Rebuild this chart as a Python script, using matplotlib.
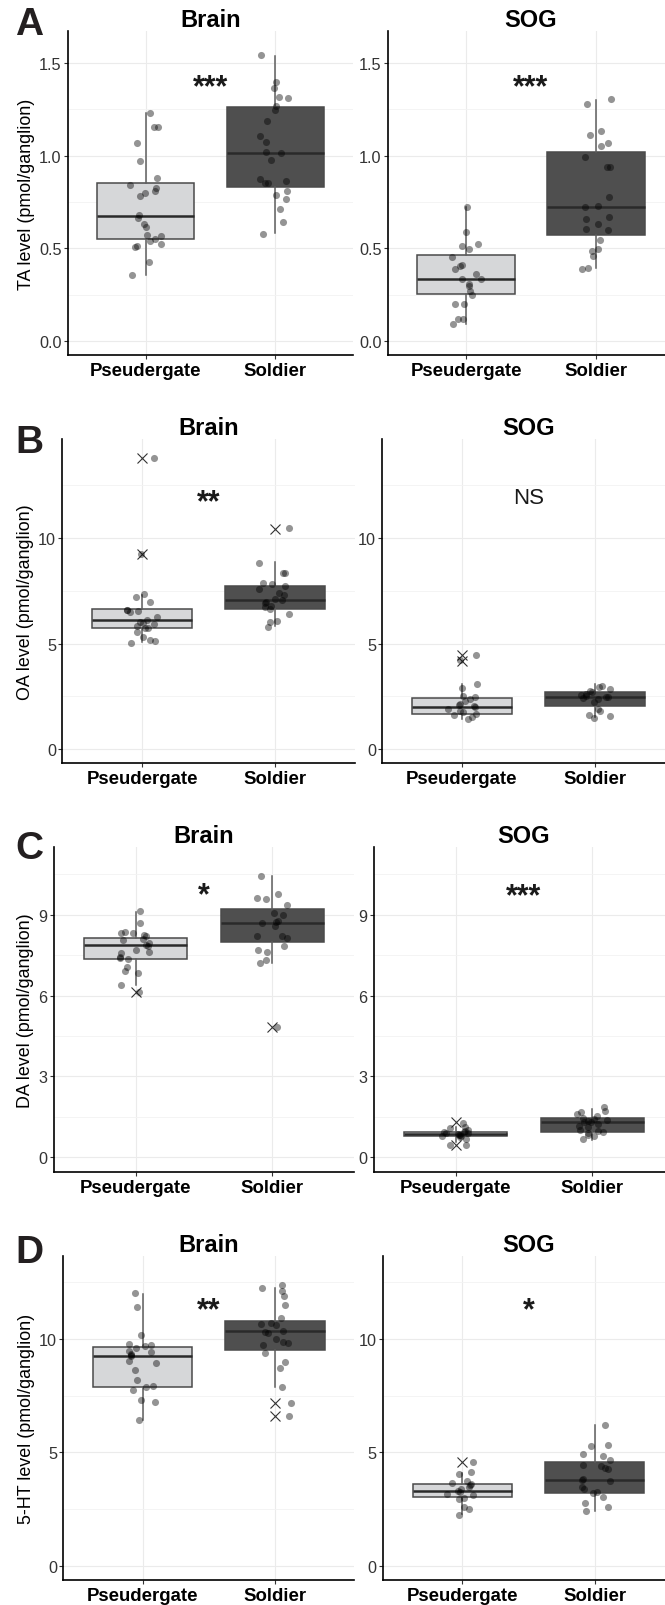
import matplotlib.pyplot as plt
import numpy as np

plt.rcParams['font.family'] = ['Liberation Sans', 'DejaVu Sans']

groups = ['Pseudergate', 'Soldier']
tissues = ['Brain', 'SOG']
letters = ['A', 'B', 'C', 'D']
ylabels = ['TA level (pmol/ganglion)', 'OA level (pmol/ganglion)',
           'DA level (pmol/ganglion)', '5-HT level (pmol/ganglion)']

# --- valeurs individuelles ---
ta_brain_pse = [1.23, 1.157, 1.157, 1.067, 0.971, 0.877, 0.841, 0.823, 0.807, 0.798, 0.784, 0.679,
                0.665, 0.634, 0.613, 0.571, 0.568, 0.55, 0.542, 0.526, 0.514, 0.506, 0.427, 0.357]
ta_brain_sol = [1.541, 1.396, 1.366, 1.312, 1.315, 1.27, 1.249, 1.189, 1.104, 1.072, 1.014, 1.022,
                0.977, 0.874, 0.865, 0.85, 0.85, 0.811, 0.787, 0.766, 0.715, 0.643, 0.58]
ta_sog_pse = [0.723, 0.586, 0.526, 0.514, 0.499, 0.454, 0.411, 0.405, 0.391, 0.364, 0.337, 0.333,
              0.31, 0.297, 0.27, 0.249, 0.202, 0.198, 0.121, 0.117, 0.094]
ta_sog_sol = [1.306, 1.279, 1.135, 1.112, 1.068, 1.054, 0.991, 0.937, 0.937, 0.778, 0.73, 0.721,
              0.661, 0.67, 0.629, 0.604, 0.598, 0.544, 0.495, 0.483, 0.459, 0.396, 0.391]

oa_brain_pse = [13.79, 9.24, 7.35, 7.19, 6.95, 6.6, 6.56, 6.6, 6.51, 6.24, 6.13, 6.03, 5.96, 5.92,
                5.81, 5.72, 5.72, 5.53, 5.29, 5.18, 5.13, 5.01]
oa_brain_sol = [10.46, 8.8, 8.34, 8.33, 7.87, 7.82, 7.74, 7.58, 7.38, 7.3, 7.11, 7.08, 6.95, 6.92,
                6.76, 6.71, 6.64, 6.4, 6.05, 6.0, 5.8]
oa_sog_pse = [4.47, 4.23, 3.08, 2.88, 2.53, 2.45, 2.37, 2.29, 2.13, 2.05, 2.09, 1.97, 1.9, 1.82,
              1.74, 1.66, 1.61, 1.5, 1.42]
oa_sog_sol = [3.0, 2.95, 2.84, 2.76, 2.69, 2.61, 2.56, 2.53, 2.48, 2.45, 2.4, 2.37, 2.21, 1.9,
              1.82, 1.63, 1.55, 1.47]

da_brain_pse = [9.16, 8.7, 8.38, 8.33, 8.32, 8.26, 8.23, 8.11, 8.05, 7.95, 7.89, 7.86, 7.68, 7.64,
                7.59, 7.45, 7.4, 7.37, 7.06, 6.91, 6.85, 6.4, 6.13]
da_brain_sol = [10.46, 9.78, 9.62, 9.59, 9.35, 9.06, 8.98, 8.79, 8.73, 8.7, 8.6, 8.23, 8.2, 8.13,
                7.86, 7.7, 7.61, 7.33, 7.22, 4.83]
da_sog_pse = [1.14, 1.08, 1.03, 0.99, 0.95, 0.93, 0.9, 0.89, 0.87, 0.84, 0.83, 0.8, 0.78, 0.74,
              0.68, 0.47, 0.47, 1.28]
da_sog_sol = [1.86, 1.73, 1.67, 1.61, 1.52, 1.45, 1.42, 1.39, 1.36, 1.32, 1.3, 1.24, 1.18, 1.11,
              1.03, 0.99, 0.93, 0.89, 0.83, 0.78, 0.68]

ht_brain_pse = [12.02, 11.39, 10.16, 9.78, 9.72, 9.68, 9.6, 9.46, 9.43, 9.34, 9.31, 9.24, 9.02,
                8.94, 8.61, 8.21, 7.92, 7.89, 7.74, 7.33, 7.23, 6.41]
ht_brain_sol = [12.39, 12.27, 12.1, 11.88, 11.48, 10.92, 10.7, 10.66, 10.6, 10.34, 10.29, 10.26,
                10.0, 9.85, 9.82, 9.72, 9.38, 8.97, 8.7, 7.89, 7.18, 6.6]
ht_sog_pse = [4.57, 4.13, 4.06, 3.74, 3.67, 3.62, 3.55, 3.49, 3.4, 3.3, 3.26, 3.18, 3.12, 2.99,
              2.96, 2.61, 2.52, 2.23]
ht_sog_sol = [6.2, 5.31, 5.28, 4.91, 4.84, 4.66, 4.44, 4.4, 4.33, 4.25, 3.81, 3.77, 3.74, 3.45,
              3.4, 3.23, 3.2, 3.04, 2.76, 2.57, 2.42]

# --- boîtes : [moustache basse, Q1, médiane, Q3, moustache haute] ---
ta_brain_box = [[0.357, 0.55, 0.672, 0.85, 1.229], [0.582, 0.829, 1.013, 1.261, 1.537]]
ta_sog_box = [[0.09, 0.256, 0.333, 0.463, 0.723], [0.396, 0.571, 0.721, 1.022, 1.30]]
oa_brain_box = [[5.06, 5.72, 6.13, 6.635, 7.30], [5.81, 6.635, 7.06, 7.74, 8.85]]
oa_sog_box = [[1.42, 1.66, 1.97, 2.40, 3.08], [1.50, 2.05, 2.45, 2.69, 3.08]]
da_brain_box = [[6.38, 7.35, 7.90, 8.13, 9.10], [7.22, 7.98, 8.70, 9.22, 10.46]]
da_sog_box = [[0.56, 0.78, 0.867, 0.953, 1.11], [0.66, 0.93, 1.30, 1.46, 1.80]]
ht_brain_box = [[6.41, 7.89, 9.24, 9.63, 11.98], [7.89, 9.53, 10.34, 10.81, 12.27]]
ht_sog_box = [[2.27, 3.01, 3.30, 3.62, 4.11], [2.42, 3.20, 3.77, 4.56, 6.19]]

# valeurs aberrantes (croix)
ta_brain_out = [[], []]
ta_sog_out = [[], []]
oa_brain_out = [[13.79, 9.24], [10.43]]
oa_sog_out = [[4.47, 4.19], []]
da_brain_out = [[6.13], [4.83]]
da_sog_out = [[1.30, 0.46], []]
ht_brain_out = [[], [7.18, 6.60]]
ht_sog_out = [[4.57], []]

# significativité
sig_labels = [['***', '***'], ['**', 'NS'], ['*', '***'], ['**', '*']]
sig_y = [[1.42, 1.42], [12.16, 12.04], [10.06, 10.03], [11.66, 11.66]]

points = [[(ta_brain_pse, ta_brain_sol), (ta_sog_pse, ta_sog_sol)],
          [(oa_brain_pse, oa_brain_sol), (oa_sog_pse, oa_sog_sol)],
          [(da_brain_pse, da_brain_sol), (da_sog_pse, da_sog_sol)],
          [(ht_brain_pse, ht_brain_sol), (ht_sog_pse, ht_sog_sol)]]
boxes = [[ta_brain_box, ta_sog_box], [oa_brain_box, oa_sog_box],
         [da_brain_box, da_sog_box], [ht_brain_box, ht_sog_box]]
outliers = [[ta_brain_out, ta_sog_out], [oa_brain_out, oa_sog_out],
            [da_brain_out, da_sog_out], [ht_brain_out, ht_sog_out]]

yticks = [[0, 0.5, 1.0, 1.5], [0, 5, 10], [0, 3, 6, 9], [0, 5, 10]]
yticklabels = [['0.0', '0.5', '1.0', '1.5'], ['0', '5', '10'], ['0', '3', '6', '9'], ['0', '5', '10']]
yminor = [[0.25, 0.75, 1.25], [2.5, 7.5, 12.5], [1.5, 4.5, 7.5, 10.5], [2.5, 7.5, 12.5]]
ylims = [(-0.0756, 1.673), (-0.66, 14.69), (-0.546, 11.52), (-0.63, 13.66)]

# position des panneaux en pixels (gauche, droite) et (haut, bas)
W, H = 665, 1606
xpix = [[(68, 353), (388, 674)], [(62.2, 354.8), (382.2, 674.8)],
        [(53.7, 354.4), (373.7, 674.4)], [(63.3, 354.4), (382.9, 674)]]
ypix = [(32, 356), (440, 764), (848, 1173), (1257, 1581)]
letter_pos = [(15, 35), (15, 453), (15, 859), (15, 1263)]

fills = ['#d6d7d9', '#4f4f4f']

fig = plt.figure(figsize=(W / 100, H / 100), dpi=100)
rng = np.random.default_rng(7)

for r in range(4):
    top, bot = ypix[r]
    for c in range(2):
        x0, x1 = xpix[r][c]
        ax = fig.add_axes([x0 / W, 1 - bot / H, (x1 - x0) / W, (bot - top) / H])

        stats = []
        for g in range(2):
            lo, q1, med, q3, hi = boxes[r][c][g]
            stats.append({'whislo': lo, 'q1': q1, 'med': med, 'q3': q3,
                          'whishi': hi, 'fliers': outliers[r][c][g]})
        bp = ax.bxp(stats, positions=[1, 2], widths=0.75, patch_artist=True,
                    showcaps=False, showfliers=True,
                    boxprops=dict(edgecolor='#4a4a4a', linewidth=1.1),
                    whiskerprops=dict(color='#5e5e5e', linewidth=1.1),
                    medianprops=dict(color='#2a2a2a', linewidth=1.8),
                    flierprops=dict(marker='x', markersize=6.5, markeredgecolor='#333333',
                                    markeredgewidth=0.8, linestyle='none'),
                    zorder=2)
        for patch, col in zip(bp['boxes'], fills):
            patch.set_facecolor(col)

        for g in range(2):
            vals = points[r][c][g]
            xs = g + 1 + rng.uniform(-0.12, 0.12, len(vals))
            ax.scatter(xs, vals, s=26, color='black', alpha=0.42, linewidths=0, zorder=3)

        is_ns = sig_labels[r][c] == 'NS'
        ax.annotate(sig_labels[r][c], (1.5, sig_y[r][c]),
                    xytext=(0, -5.8 if is_ns else -12.5),
                    textcoords='offset points', ha='center', va='baseline',
                    fontsize=16 if is_ns else 22,
                    fontweight='normal' if is_ns else 'bold', color='#1a1a1a')

        ax.set_xlim(0.4, 2.6)
        ax.set_ylim(*ylims[r])
        ax.set_xticks([1, 2])
        ax.set_xticklabels(groups, fontsize=13.4, fontweight='bold', color='black')
        ax.set_yticks(yticks[r])
        ax.set_yticklabels(yticklabels[r], fontsize=11.7, color='#333333')
        ax.set_yticks(yminor[r], minor=True)
        ax.grid(True, which='major', color='#ebebeb', linewidth=0.8)
        ax.grid(True, which='minor', axis='y', color='#f3f3f3', linewidth=0.6)
        ax.set_axisbelow(True)
        ax.tick_params(axis='both', which='major', length=3, width=0.8, color='#333333', pad=1.5)
        ax.tick_params(axis='x', pad=2)
        ax.tick_params(axis='y', which='minor', length=0)
        for s in ['top', 'right']:
            ax.spines[s].set_visible(False)
        for s in ['left', 'bottom']:
            ax.spines[s].set_color('black')
            ax.spines[s].set_linewidth(1.2)
        ax.set_title(tissues[c], fontsize=17, fontweight='bold', pad=2.5)
        if c == 0:
            ax.set_ylabel(ylabels[r], fontsize=12.9, labelpad=3)

    fig.text(letter_pos[r][0] / W, 1 - letter_pos[r][1] / H, letters[r], fontsize=28,
             fontweight='bold', ha='left', va='baseline', color='#231f20')

fig.savefig('out.png', dpi=100)
